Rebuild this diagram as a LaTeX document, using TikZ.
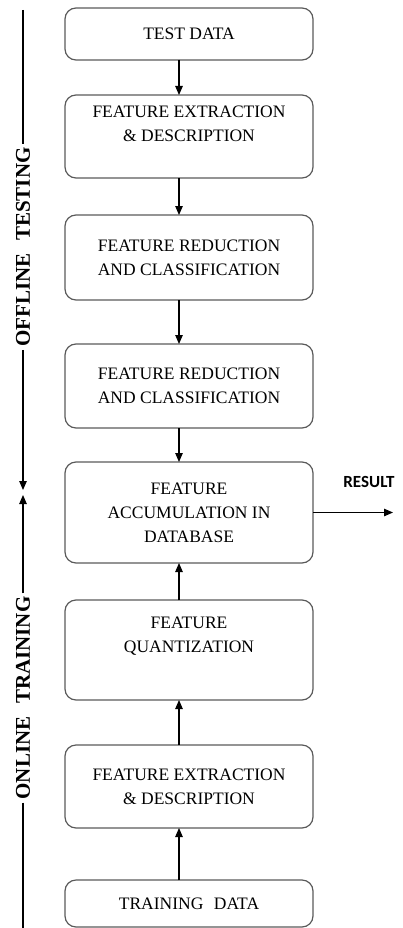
\documentclass[tikz,border=0pt]{standalone}
\usepackage{fontspec}
\setmainfont{Liberation Serif}
\newfontfamily\resultfont{Carlito}
\usepackage{tikz}
\usetikzlibrary{arrows.meta, positioning}
\definecolor{box-grey}{RGB}{90, 90, 90}

\begin{document}
\begin{tikzpicture}[
    x=1pt, y=1pt,
    box/.style={rectangle, draw=box-grey, line width=1.2pt, rounded corners=11pt,
                minimum width=248pt, align=center, outer sep=0pt,
                font=\fontsize{17.5}{24}\selectfont},
    raised/.style={text depth=#1},
    arr/.style={-{Triangle[length=9pt, width=7.5pt]}, line width=1.1pt},
    axis/.style={line width=1.3pt},
    side/.style={rotate=90, inner sep=3pt, font=\fontsize{21}{24}\selectfont\bfseries}
  ]
    \useasboundingbox (0,0) rectangle (403,-928);

    % offline testing
    \node[box, minimum height=52pt] (test) at (189,-34) {TEST DATA};
    \node[box, minimum height=83pt, raised=26pt, below=35pt of test] (extr1) {FEATURE EXTRACTION\\\& DESCRIPTION};
    \node[box, minimum height=85pt, below=37pt of extr1] (red1) {FEATURE REDUCTION\\AND CLASSIFICATION};
    \node[box, minimum height=84pt, below=44pt of red1] (red2) {FEATURE REDUCTION\\AND CLASSIFICATION};
    \node[box, minimum height=101pt, below=34pt of red2] (accum) {FEATURE\\ACCUMULATION IN\\DATABASE};
    % online training
    \node[box, minimum height=100pt, raised=30pt, below=37pt of accum] (quant) {FEATURE\\QUANTIZATION};
    \node[box, minimum height=83pt, below=45pt of quant] (extr2) {FEATURE EXTRACTION\\\& DESCRIPTION};
    \node[box, minimum height=47pt, below=52pt of extr2] (train) {TRAINING\hspace{0.6em}DATA};

    \draw[arr] ([xshift=-10pt]test.south) -- ([xshift=-10pt]extr1.north);
    \draw[arr] ([xshift=-10pt]extr1.south) -- ([xshift=-10pt]red1.north);
    \draw[arr] ([xshift=-10pt]red1.south) -- ([xshift=-10pt]red2.north);
    \draw[arr] ([xshift=-10pt]red2.south) -- ([xshift=-10pt]accum.north);
    \draw[arr] ([xshift=-10pt]train.north) -- ([xshift=-10pt]extr2.south);
    \draw[arr] ([xshift=-10pt]extr2.north) -- ([xshift=-10pt]quant.south);
    \draw[arr] ([xshift=-10pt]quant.north) -- ([xshift=-10pt]accum.south);

    % result
    \coordinate[right=80pt of accum] (res);
    \node[font=\resultfont\bfseries\fontsize{17}{20}\selectfont] (restext) at (369,-482) {RESULT};
    \draw[arr] (accum) -- (res);

    % side axis
    \coordinate (axtop) at (23,-10);
    \coordinate (axdown) at (23,-490);
    \coordinate (axup) at (23,-495);
    \coordinate (axbot) at (23,-928);
    \node[side] (offline) at (23,-247) {OFFLINE\hspace{0.6em}TESTING};
    \node[side] (online) at (23,-698) {ONLINE\hspace{0.6em}TRAINING};
    \draw[axis] (axtop) -- (offline.east);
    \draw[axis, arr] (offline.west) -- (axdown);
    \draw[axis, arr] (online.east) -- (axup);
    \draw[axis] (online.west) -- (axbot);
  \end{tikzpicture}
\end{document}
